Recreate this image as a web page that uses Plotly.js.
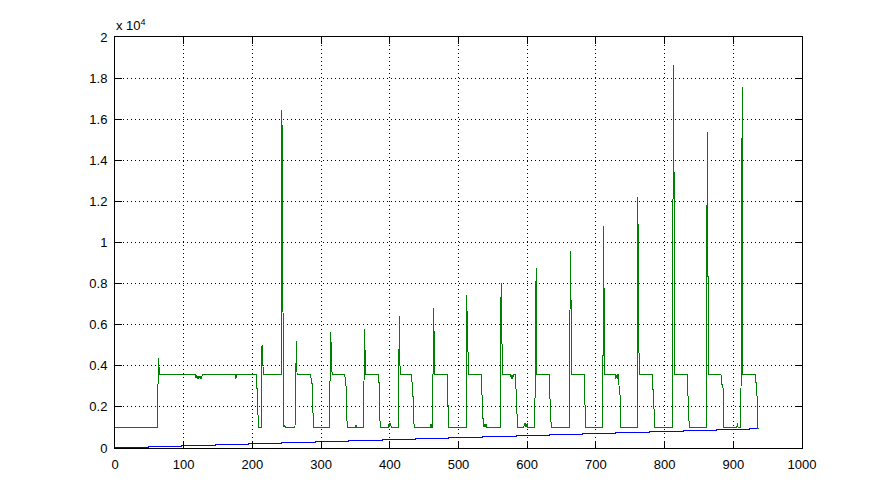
<!DOCTYPE html>
<html>
<head>
<meta charset="utf-8">
<script src="https://cdn.plot.ly/plotly-3.0.1.min.js"></script>
<style>
  html, body { margin: 0; padding: 0; background: #ffffff; }
  #chart { width: 885px; height: 504px; }
  #chart .scatterlayer path.js-line { shape-rendering: crispEdges; }
</style>
</head>
<body>
<div id="chart"></div>
<script>
// Blue series: sample-and-hold staircase (x where level starts, level value)
const blueX = [0, 49, 97, 146, 195, 243, 292, 340, 389, 438, 486, 535, 584, 632, 680, 728, 778, 827, 875, 924, 936];
const blueY = [10, 59, 107, 156, 205, 253, 302, 350, 399, 448, 496, 545, 594, 642, 690, 740, 788, 837, 886, 934, 934];

// Green series: breakpoints
const greenX = [
  0, 62, 63, 64, 65,
  117, 118, 119, 120, 121, 122, 123, 124, 125, 126, 127,
  175, 176, 177,
  206, 207, 208, 209, 213, 214, 215, 216,
  242, 243, 244, 245, 246, 247, 248, 262, 263, 264, 265,
  285, 286, 287, 288, 289, 312, 313, 314, 315, 316,
  334, 335, 336, 337, 338, 350, 351, 352, 362, 363, 364, 365,
  384, 385, 386, 398, 399, 400, 401, 402, 412, 413, 414, 415,
  432, 433, 434, 435, 436, 459, 460, 461, 462, 463, 464, 465,
  484, 485, 486, 511, 512, 513, 514, 515,
  533, 534, 535, 536, 537, 538, 539, 540, 541, 561, 562, 563, 564,
  576, 577, 578, 579, 580, 583, 584, 585, 586, 595, 596, 597, 598, 599, 600, 601, 611, 612, 613, 614,
  632, 633, 634, 635, 661, 662, 663, 664, 665,
  683, 684, 685, 710, 711, 712, 713,
  728, 729, 730, 731, 732, 733, 734, 735, 736, 760, 761, 762, 763,
  782, 783, 784, 785, 786, 811, 812, 813, 814, 815,
  833, 834, 835, 836, 861, 862, 863, 864,
  882, 883, 884, 885, 886, 905, 906, 907, 911, 912, 913, 914,
  932, 933, 934, 935, 936
];
const greenY = [
  1000, 1000, 4390, 3900, 3570,
  3570, 3400, 3570, 3370, 3500, 3370, 3520, 3370, 3480, 3370, 3570,
  3570, 3380, 3570,
  3570, 1710, 1710, 1010, 1010, 4990, 4260, 3570,
  3570, 16440, 8770, 1140, 1010, 1130, 1010, 1010, 3040, 5200, 3570,
  3570, 3120, 3120, 1910, 1010, 1010, 3330, 5640, 4550, 3570,
  3570, 3330, 3330, 2070, 1010, 1010, 1130, 1010, 1010, 5810, 4660, 3570,
  3570, 2500, 1010, 1010, 1190, 1010, 1190, 1010, 1010, 3610, 6400, 3570,
  3570, 2490, 2490, 1190, 1010, 1010, 1150, 1010, 1010, 3870, 6790, 3570,
  3570, 1550, 1010, 1010, 7460, 5490, 3800, 3570,
  3570, 2480, 2480, 1190, 1010, 1150, 1010, 1150, 1010, 1010, 8020, 5790, 3570,
  3570, 3370, 3570, 3370, 3570, 3570, 2600, 1190, 1010, 1010, 1230, 1010, 1230, 1010, 1230, 1010, 1010, 4840, 8770, 3570,
  3570, 2560, 1300, 1010, 1010, 5280, 9610, 6545, 3570,
  3570, 1300, 1010, 1010, 10790, 7140, 3570,
  3570, 3370, 3570, 3370, 3570, 3570, 2760, 2760, 1010, 1010, 12200, 6545, 3570,
  3570, 2760, 2760, 1400, 1010, 1010, 9740, 18630, 11150, 3570,
  3570, 1680, 1680, 1010, 1010, 15400, 9580, 3570,
  3570, 2960, 2960, 2960, 1010, 1010, 1200, 1010, 1010, 9290, 17590, 3570,
  3570, 3170, 3170, 1910, 940
];

const xTickVals = [0, 100, 200, 300, 400, 500, 600, 700, 800, 900, 1000];
const yTickVals = [0, 2000, 4000, 6000, 8000, 10000, 12000, 14000, 16000, 18000, 20000];
const yTickText = ['0', '0.2', '0.4', '0.6', '0.8', '1', '1.2', '1.4', '1.6', '1.8', '2'];

const tickFont = { family: 'Liberation Sans, Arial, Helvetica, sans-serif', size: 13, color: '#000000' };

const traces = [
  {
    x: blueX, y: blueY, type: 'scatter', mode: 'lines',
    line: { color: 'rgb(0,0,255)', width: 1, shape: 'hv' },
    hoverinfo: 'skip'
  },
  {
    x: greenX, y: greenY, type: 'scatter', mode: 'lines',
    line: { color: 'rgb(0,128,0)', width: 1 },
    hoverinfo: 'skip'
  }
];

const axisCommon = {
  showgrid: true, gridcolor: '#000000', gridwidth: 1, griddash: '1px,3px',
  ticks: 'inside', ticklen: 7, tickwidth: 1, tickcolor: '#000000',
  showline: true, linecolor: '#000000', linewidth: 1, mirror: 'ticks',
  zeroline: false, tickfont: tickFont, fixedrange: true,
  ticklabelstandoff: 4
};

const layout = {
  width: 885, height: 504,
  margin: { l: 115, r: 83, t: 37, b: 56, pad: 0 },
  paper_bgcolor: '#ffffff', plot_bgcolor: '#ffffff',
  showlegend: false,
  xaxis: Object.assign({}, axisCommon, { range: [0, 1000], tickmode: 'array', tickvals: xTickVals }),
  yaxis: Object.assign({}, axisCommon, { range: [0, 20000], tickmode: 'array', tickvals: yTickVals, ticktext: yTickText }),
  annotations: [{
    xref: 'paper', yref: 'paper', x: 0, y: 1, xanchor: 'left', yanchor: 'bottom',
    yshift: 2, xshift: -1, showarrow: false,
    text: 'x 10<sup>4</sup>', font: tickFont
  }]
};

Plotly.newPlot('chart', traces, layout, { displayModeBar: false, staticPlot: true });
</script>
</body>
</html>
